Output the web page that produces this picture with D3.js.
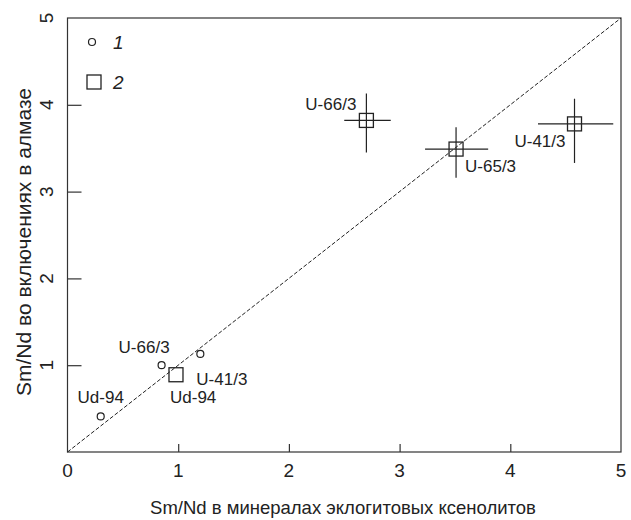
<!DOCTYPE html>
<html>
<head>
<meta charset="utf-8">
<script src="https://cdn.jsdelivr.net/npm/d3@7"></script>
<style>
  body { margin: 0; background: #fff; }
  text { font-family: "Liberation Sans", Arial, sans-serif; fill: #222; }
</style>
</head>
<body>
<div id="chart"></div>
<script>
// inclusions (1): single points
var circleNames = ["Ud-94", "U-66/3", "U-41/3"];
var circleX = [0.30, 0.85, 1.20];
var circleY = [0.41, 1.00, 1.13];

// inclusions (2): squares, some with error crosses
var squareNames = ["Ud-94", "U-66/3", "U-65/3", "U-41/3"];
var squareX = [0.98, 2.70, 3.51, 4.58];
var squareY = [0.89, 3.82, 3.49, 3.78];
var squareXLo = [null, 2.50, 3.23, 4.25];
var squareXHi = [null, 2.92, 3.80, 4.93];
var squareYLo = [null, 3.45, 3.16, 3.33];
var squareYHi = [null, 4.13, 3.74, 4.07];

var tickValues = [0, 1, 2, 3, 4, 5];
var legendLabels = ["1", "2"];

var xTitle = "Sm/Nd в минералах эклогитовых ксенолитов";
var yTitle = "Sm/Nd во включениях в алмазе";

// label placement (pixels relative to the mark)
var circleLabelPos = [
  { dx: 0, dy: -13, anchor: "middle" },
  { dx: 8, dy: -12, anchor: "end" },
  { dx: -4, dy: 31, anchor: "start" }
];
var squareLabelPos = [
  { dx: -6, dy: 28, anchor: "start" },
  { dx: -10, dy: -10, anchor: "end" },
  { dx: 9, dy: 23, anchor: "start" },
  { dx: -9, dy: 23, anchor: "end" }
];

var width = 631;
var height = 520;
var sq = 14;

var svg = d3.select("#chart")
  .append("svg")
  .attr("width", width)
  .attr("height", height);

var xScale = d3.scaleLinear().domain([0, 5]).range([67.5, 621]);
var yScale = d3.scaleLinear().domain([0, 5]).range([452, 18]);

// frame
svg.append("rect")
  .attr("x", xScale(0))
  .attr("y", yScale(5))
  .attr("width", xScale(5) - xScale(0))
  .attr("height", yScale(0) - yScale(5))
  .attr("fill", "none")
  .attr("stroke", "#333")
  .attr("stroke-width", 1.2);

// x axis, ticks pointing inward
var xAxis = svg.append("g")
  .attr("transform", "translate(0," + yScale(0) + ")")
  .call(d3.axisTop(xScale).tickValues(tickValues.slice(1, 5)).tickSize(8).tickFormat(""));
xAxis.select(".domain").remove();
xAxis.selectAll("line").attr("stroke", "#333").attr("stroke-width", 1.2);

svg.selectAll(".xlab")
  .data(tickValues)
  .enter()
  .append("text")
  .attr("class", "xlab")
  .attr("x", function (d) { return xScale(d); })
  .attr("y", yScale(0) + 25)
  .attr("text-anchor", "middle")
  .attr("font-size", 19)
  .text(function (d) { return d; });

// y axis, ticks pointing inward
var yAxis = svg.append("g")
  .attr("transform", "translate(" + xScale(0) + ",0)")
  .call(d3.axisRight(yScale).tickValues(tickValues.slice(1, 5)).tickSize(14).tickFormat(""));
yAxis.select(".domain").remove();
yAxis.selectAll("line").attr("stroke", "#333").attr("stroke-width", 1.2);

svg.selectAll(".ylab")
  .data(tickValues.slice(1))
  .enter()
  .append("text")
  .attr("class", "ylab")
  .attr("transform", function (d) {
    return "translate(" + (xScale(0) - 14.5) + "," + yScale(d) + ") rotate(-90)";
  })
  .attr("text-anchor", "middle")
  .attr("font-size", 19)
  .text(function (d) { return d; });

// axis titles
svg.append("text")
  .attr("x", 343)
  .attr("y", 514)
  .attr("text-anchor", "middle")
  .attr("font-size", 18.5)
  .text(xTitle);

svg.append("text")
  .attr("transform", "translate(31," + 242 + ") rotate(-90)")
  .attr("text-anchor", "middle")
  .attr("font-size", 21)
  .text(yTitle);

// 1:1 line
svg.append("line")
  .attr("x1", xScale(0))
  .attr("y1", yScale(0))
  .attr("x2", xScale(5))
  .attr("y2", yScale(5))
  .attr("stroke", "#222")
  .attr("stroke-width", 1)
  .attr("stroke-dasharray", "4,2");

// error crosses
var squareIdx = d3.range(squareNames.length);
var crossIdx = squareIdx.filter(function (i) { return squareXLo[i] !== null; });

svg.selectAll(".xerr")
  .data(crossIdx)
  .enter()
  .append("line")
  .attr("x1", function (i) { return xScale(squareXLo[i]); })
  .attr("x2", function (i) { return xScale(squareXHi[i]); })
  .attr("y1", function (i) { return yScale(squareY[i]); })
  .attr("y2", function (i) { return yScale(squareY[i]); })
  .attr("stroke", "#222")
  .attr("stroke-width", 1.2);

svg.selectAll(".yerr")
  .data(crossIdx)
  .enter()
  .append("line")
  .attr("x1", function (i) { return xScale(squareX[i]); })
  .attr("x2", function (i) { return xScale(squareX[i]); })
  .attr("y1", function (i) { return yScale(squareYLo[i]); })
  .attr("y2", function (i) { return yScale(squareYHi[i]); })
  .attr("stroke", "#222")
  .attr("stroke-width", 1.2);

// squares
svg.selectAll(".sq")
  .data(squareIdx)
  .enter()
  .append("rect")
  .attr("x", function (i) { return xScale(squareX[i]) - sq / 2; })
  .attr("y", function (i) { return yScale(squareY[i]) - sq / 2; })
  .attr("width", sq)
  .attr("height", sq)
  .attr("fill", "none")
  .attr("stroke", "#222")
  .attr("stroke-width", 1.3);

svg.selectAll(".sqlab")
  .data(squareIdx)
  .enter()
  .append("text")
  .attr("x", function (i) { return xScale(squareX[i]) + squareLabelPos[i].dx; })
  .attr("y", function (i) { return yScale(squareY[i]) + squareLabelPos[i].dy; })
  .attr("text-anchor", function (i) { return squareLabelPos[i].anchor; })
  .attr("font-size", 17)
  .text(function (i) { return squareNames[i]; });

// circles
var circleIdx = d3.range(circleNames.length);
svg.selectAll(".pt")
  .data(circleIdx)
  .enter()
  .append("circle")
  .attr("cx", function (i) { return xScale(circleX[i]); })
  .attr("cy", function (i) { return yScale(circleY[i]); })
  .attr("r", 3.5)
  .attr("fill", "#fff")
  .attr("stroke", "#222")
  .attr("stroke-width", 1.2);

svg.selectAll(".ptlab")
  .data(circleIdx)
  .enter()
  .append("text")
  .attr("x", function (i) { return xScale(circleX[i]) + circleLabelPos[i].dx; })
  .attr("y", function (i) { return yScale(circleY[i]) + circleLabelPos[i].dy; })
  .attr("text-anchor", function (i) { return circleLabelPos[i].anchor; })
  .attr("font-size", 17)
  .text(function (i) { return circleNames[i]; });

// legend
svg.append("circle")
  .attr("cx", 92)
  .attr("cy", 42)
  .attr("r", 3.5)
  .attr("fill", "#fff")
  .attr("stroke", "#222")
  .attr("stroke-width", 1.2);
svg.append("rect")
  .attr("x", 87)
  .attr("y", 75)
  .attr("width", sq)
  .attr("height", sq)
  .attr("fill", "none")
  .attr("stroke", "#222")
  .attr("stroke-width", 1.3);
svg.selectAll(".leg")
  .data(legendLabels)
  .enter()
  .append("text")
  .attr("x", 113)
  .attr("y", function (d, i) { return 49 + i * 40; })
  .attr("font-size", 19)
  .attr("font-style", "italic")
  .text(function (d) { return d; });
</script>
</body>
</html>
